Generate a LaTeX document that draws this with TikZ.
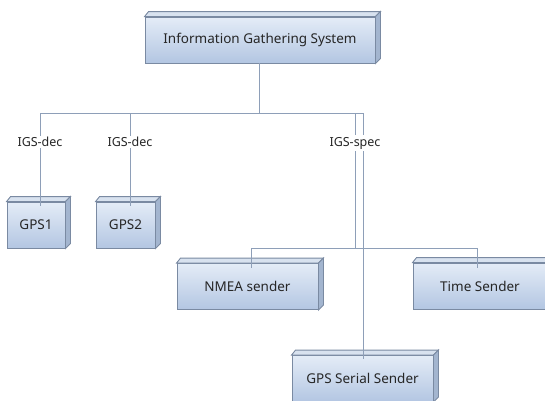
\documentclass[tikz,border=0pt]{standalone}
\usepackage{fontspec}
\setmainfont{Noto Sans}
\definecolor{linec}{HTML}{8E9FB8}
\definecolor{edgec}{HTML}{7A8AA2}
\definecolor{topc}{HTML}{E4ECF7}
\definecolor{botc}{HTML}{B3C6E2}
\definecolor{sidec}{HTML}{A3B5CF}
\definecolor{lidc}{HTML}{D8E2EF}
\definecolor{textc}{HTML}{262626}
\begin{document}
\begin{tikzpicture}[x=1pt,y=-1pt,
  box/.style={draw=edgec,line width=0.9pt,top color=topc,bottom color=botc,
    minimum height=46pt,inner sep=0pt,text=textc,font=\fontsize{13.5}{15}\selectfont},
  face/.style={draw=edgec,line width=0.9pt},
  conn/.style={draw=linec,line width=0.9pt},
  lbl/.style={fill=white,inner sep=1.5pt,text=textc,font=\fontsize{12.5}{14}\selectfont}]
\path[use as bounding box] (0,0) rectangle (545,400);
\clip (0,0) rectangle (545,400);
% boxes
\node[box,minimum width=230pt] (igs) at (260,40) {Information Gathering System};
\node[box,minimum width=58pt] (gps1) at (36,225) {GPS1};
\node[box,minimum width=59pt] (gps2) at (125.5,225) {GPS2};
\node[box,minimum width=141pt] (nmea) at (247.5,286.5) {NMEA sender};
\node[box,minimum width=134pt] (time) at (480,286) {Time Sender};
\node[box,minimum width=141pt] (serial) at (362.5,378.5) {GPS Serial Sender};
% 3D faces
\foreach \n in {igs,gps1,gps2,nmea,time,serial}{
  \filldraw[face,fill=lidc] (\n.north west) -- ([shift={(4,-5)}]\n.north west)
     -- ([shift={(5,-5)}]\n.north east) -- (\n.north east) -- cycle;
  \filldraw[face,fill=sidec] (\n.north east) -- ([shift={(5,-5)}]\n.north east)
     -- ([shift={(5,-5)}]\n.south east) -- (\n.south east) -- cycle;
}
% junction coordinates
\coordinate (j0) at (259,113);
\coordinate (jl) at (40,113);
\coordinate (jm) at (130,113);
\coordinate (js1) at (355,113);
\coordinate (js2) at (363,113);
\coordinate (jh) at (355,248);
\coordinate (jhl) at (251,248);
\coordinate (jhr) at (477,248);
% connectors
\draw[conn] (igs.south -| j0) -- (j0);
\draw[conn] (jl) -- (js2);
\draw[conn] (jl) -- ([yshift=-4pt]jl |- gps1.north);
\draw[conn] (jm) -- ([yshift=-4pt]jm |- gps2.north);
\draw[conn] (js1) -- (jh);
\draw[conn] (js2) -- ([yshift=-4pt]js2 |- serial.north);
\draw[conn] (jhl) -- (jhr);
\draw[conn] (jhl) -- ([yshift=-5pt]jhl |- nmea.north);
\draw[conn] (jhr) -- ([yshift=-5pt]jhr |- time.north);
% labels
\node[lbl] (l1) at (40,142) {IGS-dec};
\node[lbl] (l2) at (130,142) {IGS-dec};
\node[lbl] (l3) at (355,143) {IGS-spec};
\end{tikzpicture}
\end{document}
